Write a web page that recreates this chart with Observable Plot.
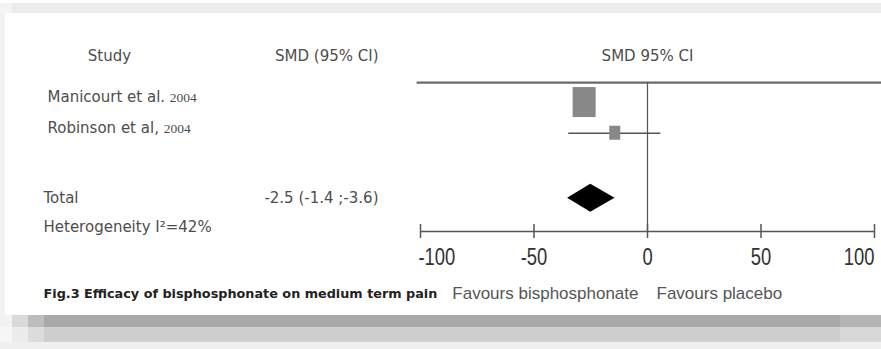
<!DOCTYPE html>
<html>
<head>
<meta charset="utf-8">
<script src="https://cdn.jsdelivr.net/npm/d3@7"></script>
<script src="https://cdn.jsdelivr.net/npm/@observablehq/plot@0.6"></script>
<style>
  html, body { margin: 0; padding: 0; background: #fff; }
  #wrap { position: relative; width: 881px; height: 349px; overflow: hidden; background: #fff; }
  .band { position: absolute; left: 0; width: 881px; }
  #chart { position: absolute; left: 0; top: 0; }
</style>
</head>
<body>
<div id="wrap">
  <div class="band" style="top:3px;height:10px;background:linear-gradient(to right,#f4f4f4 0,#f4f4f4 12px,#ececec 12px);"></div>
  <div class="band" style="top:13px;height:302px;width:5px;background:#f2f2f2;"></div>
  <div class="band" style="top:315px;height:12px;background:linear-gradient(to right,#f2f2f2 0,#f2f2f2 12px,#dadada 12px,#dadada 28px,#bdbdbd 28px,#bdbdbd 44px,#a8a8a8 44px,#a8a8a8 840px,#b4b4b4 840px);"></div>
  <div class="band" style="top:327px;height:15px;background:linear-gradient(to right,#f6f6f6 0,#f6f6f6 12px,#ececec 12px,#ececec 28px,#dcdcdc 28px,#dcdcdc 44px,#cecece 44px,#cecece 840px,#d8d8d8 840px);"></div>
  <div class="band" style="top:342px;height:7px;background:#f0f0f0;"></div>
  <div id="chart"></div>
</div>
<script>
// ---- data ----
const studies = ["Manicourt et al.", "Robinson et al,"];
const years = ["2004", "2004"];
const smd = [-27.7, -14.2];
const ciLow = [-32, -34.7];
const ciHigh = [-24, 5.9];
const totalLabel = "Total";
const totalText = "-2.5 (-1.4 ;-3.6)";
const totalSMD = -25;
const totalLow = -35.2;
const totalHigh = -14.3;
const heterogeneityText = "Heterogeneity I\u00b2=42%";
const headers = ["Study", "SMD (95% CI)", "SMD 95% CI"];
const tickValues = [-100, -50, 0, 50, 100];
const tickLabels = ["-100", "-50", "0", "50", "100"];
const captionText = "Fig.3 Efficacy of bisphosphonate on medium term pain";
const favoursLeft = "Favours bisphosphonate";
const favoursRight = "Favours placebo";

// ---- layout (row units) ----
const ROW = {header: 0, topLine: 0.85, studies: [1.5, 2.5], total: 4.62, het: 5.55, axis: 5.7, caption: 7.72};
const pxPerX = 454 / 200, pxPerY = 30.7;
const boxHalf = [[11.5, 15], [5.5, 7]]; // px half width / half height
const labelFont = "DejaVu Sans, Verdana, sans-serif";
const textColor = "#4d4d4d";

// measure for year placement
const ctx = document.createElement("canvas").getContext("2d");
ctx.font = "15px DejaVu Sans";
const studyRows = studies.map((s, i) => ({
  study: s, year: years[i], smd: smd[i], lo: ciLow[i], hi: ciHigh[i], row: ROW.studies[i],
  yearDx: 47 + ctx.measureText(s + " ").width,
  bx1: smd[i] - boxHalf[i][0] / pxPerX, bx2: smd[i] + boxHalf[i][0] / pxPerX,
  by1: ROW.studies[i] - boxHalf[i][1] / pxPerY, by2: ROW.studies[i] + boxHalf[i][1] / pxPerY
}));
const dh = 14 / pxPerY;
const diamond = [
  {y: ROW.total - dh, x1: totalSMD, x2: totalSMD},
  {y: ROW.total, x1: totalLow, x2: totalHigh},
  {y: ROW.total + dh, x1: totalSMD, x2: totalSMD}
];
const ticks = tickValues.map((v, i) => ({v, label: tickLabels[i]}));

// condensed rendering of the tick labels (no narrow font installed)
const condensed = (index, scales, values, dims, context, next) => {
  const g = next(index, scales, values, dims, context);
  d3.select(g).selectAll("text").each(function() {
    const t = d3.select(this);
    t.attr("transform", (t.attr("transform") || "") + " scale(0.8,1)");
  });
  return g;
};
const tickOpts = {x: "v", y: () => ROW.axis, dy: 26, text: "label", fontSize: 23, fontFamily: "Liberation Sans, Arial, sans-serif", fill: "#333", render: condensed};

const chart = Plot.plot({
  width: 881, height: 349,
  marginLeft: 0, marginRight: 0, marginTop: 0, marginBottom: 0,
  style: {background: "transparent", overflow: "visible"},
  x: {domain: [-100, 100], range: [420, 874]},
  y: {domain: [0, 10], range: [56, 363]},
  axis: null,
  marks: [
    // headers
    Plot.text([headers[0]], {y: () => ROW.header, text: d => d, frameAnchor: "left", dx: 109, textAnchor: "middle", fontSize: 15, fontFamily: labelFont, fill: textColor}),
    Plot.text([headers[1]], {y: () => ROW.header, text: d => d, frameAnchor: "left", dx: 378, textAnchor: "end", fontSize: 15, fontFamily: labelFont, fill: textColor}),
    Plot.text([headers[2]], {x: () => 0, y: () => ROW.header, text: d => d, textAnchor: "middle", fontSize: 15, fontFamily: labelFont, fill: textColor}),
    // top line
    Plot.ruleY([ROW.topLine], {x1: -101.5, x2: 106, stroke: "#6a6a6a", strokeWidth: 2.2}),
    // zero line
    Plot.ruleX([0], {y1: ROW.topLine, y2: ROW.axis, stroke: "#555", strokeWidth: 1.2}),
    // studies
    Plot.text(studyRows, {y: "row", text: "study", frameAnchor: "left", dx: 47, dy: -5, textAnchor: "start", fontSize: 15, fontFamily: labelFont, fill: textColor}),
    Plot.text(studyRows, {y: "row", text: "year", frameAnchor: "left", textAnchor: "start", fontSize: 13.5, fontFamily: "Liberation Serif, serif", fill: textColor,
      render: (index, scales, values, dims, context, next) => {
        const g = next(index, scales, values, dims, context);
        d3.select(g).selectAll("text").each(function(_, j) {
          const i = index[j];
          const t = d3.select(this);
          t.attr("transform", (t.attr("transform") || "") + ` translate(${studyRows[i].yearDx},-5)`);
        });
        return g;
      }}),
    Plot.ruleY(studyRows, {y: "row", x1: "lo", x2: "hi", stroke: "#555", strokeWidth: 1.5}),
    Plot.rect(studyRows, {x1: "bx1", x2: "bx2", y1: "by1", y2: "by2", fill: "#888"}),
    // total
    Plot.text([totalLabel], {y: () => ROW.total, text: d => d, frameAnchor: "left", dx: 43, textAnchor: "start", fontSize: 15, fontFamily: labelFont, fill: textColor}),
    Plot.text([totalText], {y: () => ROW.total, text: d => d, frameAnchor: "left", dx: 378, textAnchor: "end", fontSize: 15, fontFamily: labelFont, fill: textColor}),
    Plot.areaX(diamond, {y: "y", x1: "x1", x2: "x2", fill: "black", curve: "linear"}),
    Plot.text([heterogeneityText], {y: () => ROW.het, text: d => d, frameAnchor: "left", dx: 43, textAnchor: "start", fontSize: 15, fontFamily: labelFont, fill: textColor}),
    // axis
    Plot.ruleY([ROW.axis], {x1: tickValues[0], x2: tickValues[tickValues.length - 1], stroke: "#555", strokeWidth: 1.5}),
    Plot.ruleX(ticks, {x: "v", y1: ROW.axis - 7 / pxPerY, y2: ROW.axis + 7 / pxPerY, stroke: "#555", strokeWidth: 1.5}),
    Plot.text(ticks.slice(0, 1), {...tickOpts, textAnchor: "start", dx: -2}),
    Plot.text(ticks.slice(1, -1), {...tickOpts, textAnchor: "middle"}),
    Plot.text(ticks.slice(-1), {...tickOpts, textAnchor: "end", dx: 0}),
    // caption
    Plot.text([captionText], {y: () => ROW.caption, text: d => d, frameAnchor: "left", dx: 43, textAnchor: "start", fontSize: 12.8, fontWeight: "bold", fontFamily: labelFont, fill: "#222"}),
    Plot.text([favoursLeft], {x: () => 0, y: () => ROW.caption, dx: -9, text: d => d, textAnchor: "end", fontSize: 17, fontFamily: "Liberation Sans, Arial, sans-serif", fill: "#555"}),
    Plot.text([favoursRight], {x: () => 0, y: () => ROW.caption, dx: 9, text: d => d, textAnchor: "start", fontSize: 17, fontFamily: "Liberation Sans, Arial, sans-serif", fill: "#555"})
  ]
});
document.getElementById("chart").appendChild(chart);
</script>
</body>
</html>
